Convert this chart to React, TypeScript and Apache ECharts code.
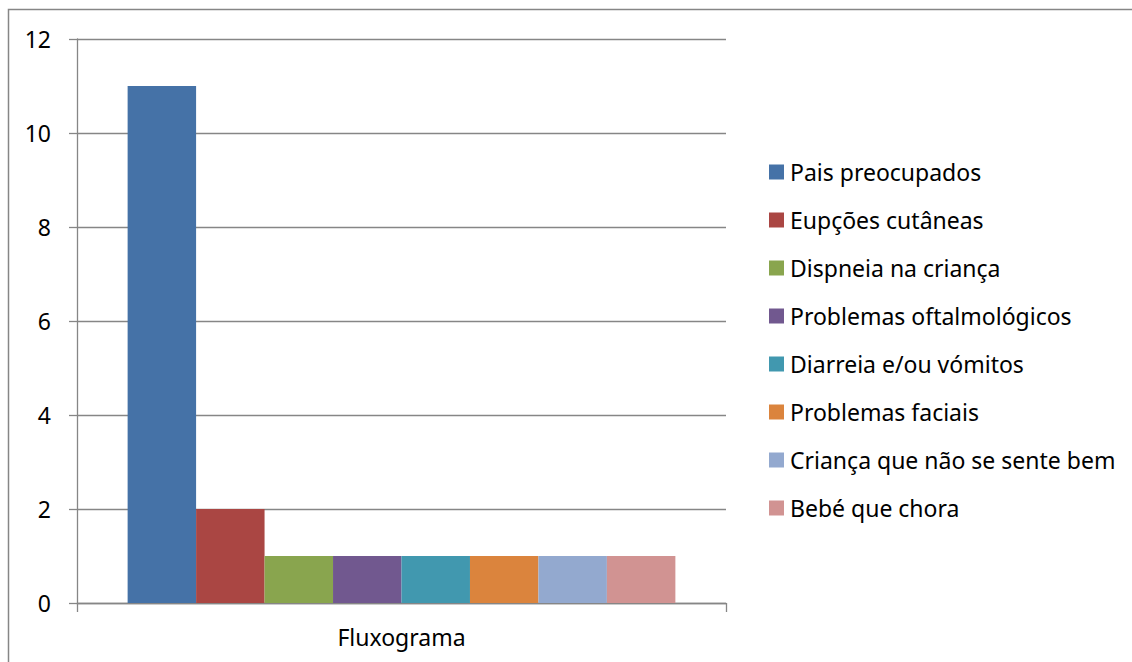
import React, { useEffect, useRef } from "react";
import * as echarts from "echarts";

const categories = ["Fluxograma"];
const seriesNames = [
  "Pais preocupados",
  "Eupções cutâneas",
  "Dispneia na criança",
  "Problemas oftalmológicos",
  "Diarreia e/ou vómitos",
  "Problemas faciais",
  "Criança que não se sente bem",
  "Bebé que chora",
];
const seriesValues = [11, 2, 1, 1, 1, 1, 1, 1];
const colors = ["#4572A7", "#AA4643", "#89A54E", "#71588F", "#4198AF", "#DB843D", "#93A9CF", "#D19392"];

const FONT = "Noto Sans";

export default function App() {
  const ref = useRef<HTMLDivElement>(null);
  useEffect(() => {
    if (!ref.current) return;
    const chart = echarts.init(ref.current, null, { renderer: "svg" });
    chart.setOption({
      animation: false,
      backgroundColor: "#ffffff",
      color: colors,
      graphic: [
        {
          type: "rect",
          shape: { x: 8.5, y: 9.5, width: 1200, height: 700 },
          style: { fill: "none", stroke: "#868686", lineWidth: 1.5 },
          silent: true,
          z: -10,
        },
      ],
      grid: { left: 77, right: 406, top: 39, bottom: 59, containLabel: false },
      legend: {
        orient: "vertical",
        left: 764,
        top: 155,
        itemWidth: 15,
        itemHeight: 15,
        itemGap: 24,
        icon: "rect",
        textStyle: { fontFamily: FONT, fontSize: 23, color: "#000", lineHeight: 24, padding: [0, 0, 0, 1] },
        data: seriesNames,
      },
      xAxis: {
        type: "category",
        data: categories,
        axisLine: { lineStyle: { color: "#868686", width: 1.3 } },
        axisTick: { show: true, length: 9, lineStyle: { color: "#868686", width: 1.3 } },
        axisLabel: { fontFamily: FONT, fontSize: 23, color: "#000", margin: 22 },
      },
      yAxis: {
        type: "value",
        min: 0,
        max: 12,
        interval: 2,
        axisLine: { show: true, lineStyle: { color: "#868686", width: 1.3 } },
        axisTick: { show: true, length: 8, lineStyle: { color: "#868686", width: 1.3 } },
        splitLine: { lineStyle: { color: "#868686", width: 1.3 } },
        axisLabel: { fontFamily: FONT, fontSize: 23, color: "#000", margin: 26 },
      },
      series: seriesNames.map((name, i) => ({
        name,
        type: "bar",
        data: [seriesValues[i]],
        barGap: "0%",
        barCategoryGap: "15.6%",
        itemStyle: { color: colors[i] },
      })),
    });
    return () => chart.dispose();
  }, []);
  return (
    <div
      ref={ref}
      style={{ position: "fixed", left: 0, top: 0, width: 1132, height: 662 }}
    />
  );
}
